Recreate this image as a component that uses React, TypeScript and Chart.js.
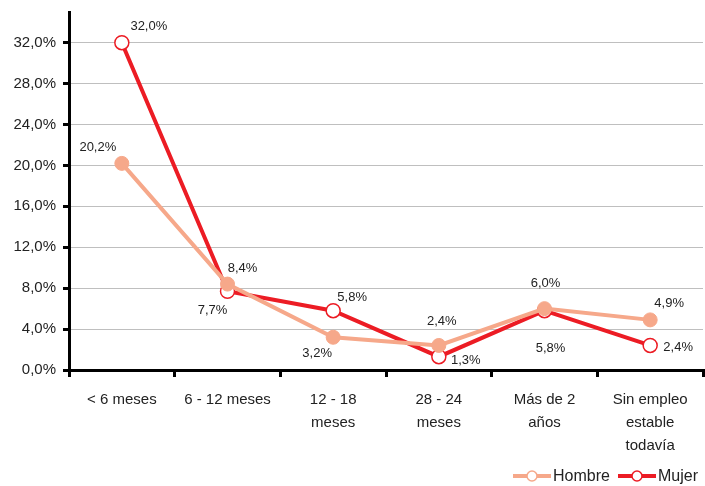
import React, { useEffect, useRef } from "react";
import { Chart, registerables } from "chart.js";

Chart.register(...registerables);

const categories: (string | string[])[] = [
  "< 6 meses",
  "6 - 12 meses",
  ["12 - 18", "meses"],
  ["28 - 24", "meses"],
  ["Más de 2", "años"],
  ["Sin empleo", "estable", "todavía"],
];
const hombre = [20.2, 8.4, 3.2, 2.4, 6.0, 4.9];
const mujer = [32.0, 7.7, 5.8, 1.3, 5.8, 2.4];
const yTicks = [0, 4, 8, 12, 16, 20, 24, 28, 32];

// label offsets (dx, dy) relative to point, in px
const hombreLabelOffsets = [[-24, -16], [15, -16], [-16, 16], [3, -24], [1, -25], [19, -16]];
const mujerLabelOffsets = [[27, -16], [-15, 19], [19, -13], [27, 4], [6, 38], [28, 2]];

const HOMBRE_COLOR = "#F6A88A";
const MUJER_COLOR = "#EC1C24";
const FONT = "'Liberation Sans', Arial, sans-serif";
const fmt = (v: number) => v.toFixed(1).replace(".", ",") + "%";

const labelPlugin = {
  id: "dataLabels",
  afterDatasetsDraw(chart: any) {
    const ctx = chart.ctx;
    ctx.save();
    ctx.font = `13px ${FONT}`;
    ctx.fillStyle = "#222";
    ctx.textAlign = "center";
    ctx.textBaseline = "middle";
    const offs = [hombreLabelOffsets, mujerLabelOffsets];
    chart.data.datasets.forEach((ds: any, di: number) => {
      const meta = chart.getDatasetMeta(di);
      meta.data.forEach((pt: any, i: number) => {
        const [dx, dy] = offs[di][i];
        ctx.fillText(fmt(ds.data[i]), pt.x + dx, pt.y + dy);
      });
    });
    ctx.restore();
  },
};

const legendPlugin = {
  id: "customLegend",
  afterDraw(chart: any) {
    const ctx = chart.ctx;
    const y = 476;
    const items = [
      { text: "Hombre", color: HOMBRE_COLOR, x: 513 },
      { text: "Mujer", color: MUJER_COLOR, x: 618 },
    ];
    ctx.save();
    ctx.font = `16px ${FONT}`;
    ctx.textBaseline = "middle";
    ctx.textAlign = "left";
    items.forEach((it) => {
      ctx.strokeStyle = it.color;
      ctx.lineWidth = 4;
      ctx.beginPath();
      ctx.moveTo(it.x, y);
      ctx.lineTo(it.x + 38, y);
      ctx.stroke();
      ctx.beginPath();
      ctx.arc(it.x + 19, y, 5, 0, Math.PI * 2);
      ctx.fillStyle = "#fff";
      ctx.fill();
      ctx.lineWidth = 1.5;
      ctx.stroke();
      ctx.fillStyle = "#222";
      ctx.fillText(it.text, it.x + 40, y + 1);
    });
    ctx.restore();
  },
};

export default function App() {
  const ref = useRef<HTMLCanvasElement>(null);
  useEffect(() => {
    if (!ref.current) return;
    const chart = new Chart(ref.current, {
      type: "line",
      data: {
        labels: categories,
        datasets: [
          {
            label: "Hombre",
            data: hombre,
            borderColor: HOMBRE_COLOR,
            backgroundColor: HOMBRE_COLOR,
            borderWidth: 4,
            pointRadius: 7,
            pointBackgroundColor: HOMBRE_COLOR,
            pointBorderColor: HOMBRE_COLOR,
            pointBorderWidth: 1,
          },
          {
            label: "Mujer",
            data: mujer,
            borderColor: MUJER_COLOR,
            backgroundColor: "#fff",
            borderWidth: 4,
            pointRadius: 7,
            pointBackgroundColor: "#fff",
            pointBorderColor: MUJER_COLOR,
            pointBorderWidth: 1.5,
          },
        ],
      },
      options: {
        responsive: false,
        animation: false,
        layout: { autoPadding: false, padding: { top: 12, right: 2, left: 0, bottom: 0 } },
        plugins: { legend: { display: false }, tooltip: { enabled: false } },
        scales: {
          x: {
            offset: true,
            grid: {
              offset: true,
              drawOnChartArea: false,
              drawTicks: true,
              tickLength: 7,
              tickColor: "#000",
              lineWidth: 3,
            },
            border: { color: "#000", width: 3 },
            ticks: {
              color: "#222",
              font: { family: FONT, size: 15, lineHeight: 1.55 },
              padding: 11,
              maxRotation: 0,
              autoSkip: false,
            },
            afterFit: (s: any) => {
              s.height = 116;
              s.paddingLeft = 0;
              s.paddingRight = 0;
            },
          },
          y: {
            min: 0,
            max: 35,
            ticks: {
              stepSize: 4,
              color: "#222",
              font: { family: FONT, size: 15 },
              padding: 7,
              callback: (v: any) => fmt(Number(v)),
            },
            afterBuildTicks: (s: any) => {
              s.ticks = yTicks.map((v) => ({ value: v }));
            },
            grid: {
              color: "#BFBFBF",
              lineWidth: 1,
              drawTicks: true,
              tickLength: 6,
              tickColor: "#000",
              tickWidth: 3,
            },
            border: { color: "#000", width: 3 },
            afterFit: (s: any) => {
              s.width = 69;
              s.paddingTop = 0;
              s.paddingBottom = 0;
            },
          },
        },
      },
      plugins: [labelPlugin, legendPlugin],
    });
    return () => chart.destroy();
  }, []);
  return (
    <div style={{ position: "fixed", left: 0, top: 0, width: 705, height: 486, background: "#fff" }}>
      <canvas ref={ref} width={705} height={486} />
    </div>
  );
}
